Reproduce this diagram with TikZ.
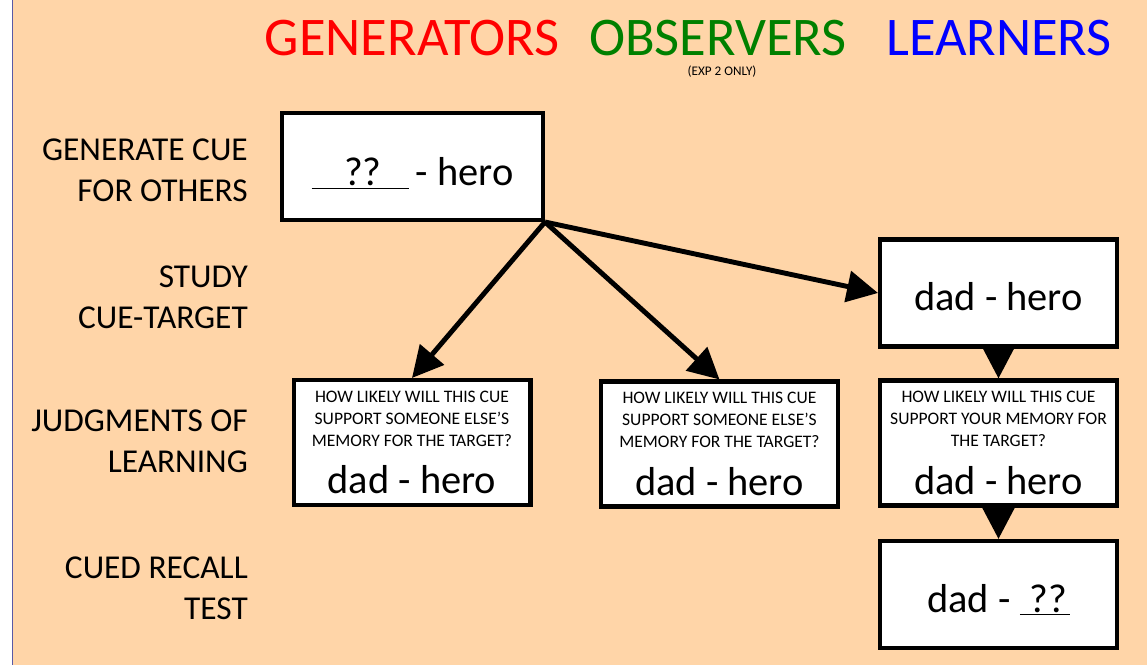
\documentclass[tikz,border=0pt]{standalone}
\usepackage{fontspec}
\setmainfont{Carlito}
\usetikzlibrary{arrows.meta}

\definecolor{peach}{RGB}{255,213,168}
\definecolor{hdrgreen}{RGB}{0,128,0}

\tikzset{
  box/.style={draw=black,fill=white,line width=2.3pt,minimum width=4.74cm,
    minimum height=2.14cm,align=center,inner sep=0pt,font=\fontsize{23}{27}\selectfont},
  onebox/.style={box,text height=22pt,text depth=2pt},
  jolbox/.style={box,minimum height=2.5cm,font=\fontsize{10}{12.5}\selectfont},
  rowlabel/.style={anchor=east,align=right,font=\fontsize{19}{23.5}\selectfont},
  header/.style={anchor=base,inner sep=0pt,text depth=0pt,font=\fontsize{31}{35}\selectfont},
  arrow/.style={line width=2.8pt,-{Triangle[length=0.62cm,width=0.62cm]}}
}

\newcommand{\pair}{\fontsize{23}{27}\selectfont dad - hero}

\begin{document}
\begin{tikzpicture}[x=0.02cm,y=-0.02cm]
  \useasboundingbox (0,0) rectangle (1147,665);
  % background
  \fill[peach] (13,0) rectangle (1147,665);
  \draw[gray!70!blue,line width=1pt] (12.5,0) -- (12.5,665);

  % headers
  \node[header,red] (hgen) at (412,56) {GENERATORS};
  \node[header,hdrgreen] (hobs) at (718,56) {OBSERVERS};
  \node[header,blue] (hlrn) at (999,56) {LEARNERS};
  \node[font=\fontsize{7.5}{9}\selectfont,inner sep=0.5pt] (hnote) at (722,72) {(EXP 2 ONLY)};

  % row labels
  \node[rowlabel] (lgen) at (254,170) {GENERATE CUE\\FOR OTHERS};
  \node[rowlabel] (lstudy) at (254,297) {STUDY\\CUE-TARGET};
  \node[rowlabel] (ljol) at (254,441) {JUDGMENTS OF\\LEARNING};
  \node[rowlabel] (lrecall) at (254,588) {CUED RECALL\\TEST};

  % boxes
  \node[onebox,minimum width=5.22cm,text height=24pt] (gen) at (412.5,166.5)
    {\underline{\hspace{0.65cm}??\hspace{0.55cm}}\,- hero};
  \node[onebox] (study) at (998.5,293) {dad - hero};
  \node[jolbox] (jolgen) at (412,442.5)
    {HOW LIKELY WILL THIS CUE\\SUPPORT SOMEONE ELSE’S\\MEMORY FOR THE TARGET?\\[10pt]\pair};
  \node[jolbox] (jolobs) at (719.5,444)
    {HOW LIKELY WILL THIS CUE\\SUPPORT SOMEONE ELSE’S\\MEMORY FOR THE TARGET?\\[10pt]\pair};
  \node[jolbox] (jollrn) at (998.5,443)
    {HOW LIKELY WILL THIS CUE\\SUPPORT YOUR MEMORY FOR\\THE TARGET?\\[10pt]\pair};
  \node[onebox] (recall) at (998.5,594.5)
    {dad - \underline{\hspace{0.2cm}??\hspace{0.05cm}}};

  % arrows
  \draw[arrow] (gen.south east) -- (jolgen.north);
  \draw[arrow] (gen.south east) -- (jolobs.north);
  \draw[arrow] (gen.south east) -- (study.west);
  \draw[arrow] (study.south) -- (jollrn.north);
  \draw[arrow] (jollrn.south) -- (recall.north);
\end{tikzpicture}
\end{document}
